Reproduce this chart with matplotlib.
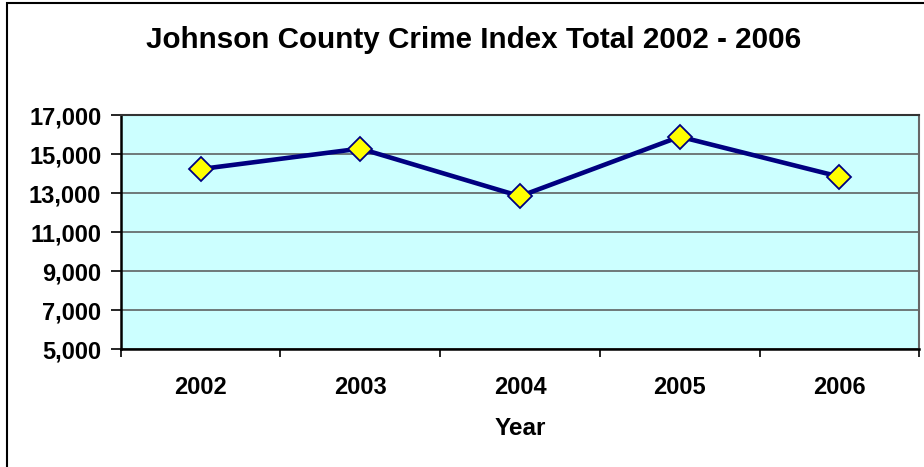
import numpy as np
import matplotlib.pyplot as plt
from matplotlib.patches import Rectangle
from matplotlib.ticker import FuncFormatter, FixedLocator

# 数据
years = ['2002', '2003', '2004', '2005', '2006']
crime_total = [14230, 15280, 12840, 15890, 13840]
y_ticks = [5000, 7000, 9000, 11000, 13000, 15000, 17000]

plt.rcParams['font.family'] = ['Liberation Sans', 'DejaVu Sans']
plt.rcParams['font.weight'] = 'bold'

fig = plt.figure(figsize=(9.24, 4.67), dpi=100)
fig.patch.set_facecolor('white')

# 外框
fig.patches.append(Rectangle((7 / 924, -0.1), 1.2, (1 - 3 / 467) + 0.1,
                             transform=fig.transFigure, fill=False,
                             edgecolor='black', linewidth=1.5))

ax = fig.add_axes([120.7 / 924, 1 - 349.3 / 467, (919.3 - 120.7) / 924, (349.3 - 115) / 467])
ax.set_facecolor('#CCFFFF')

x = np.arange(1, len(years) + 1)
ax.plot(x, crime_total, color='#000080', linewidth=3.3, marker='D', markersize=12,
        markerfacecolor='#FFFF00', markeredgecolor='#000080', markeredgewidth=1.3,
        zorder=3)

ax.set_xlim(0.5, len(years) + 0.5)
ax.set_ylim(5000, 17000)
ax.set_yticks(y_ticks)
ax.yaxis.set_major_formatter(FuncFormatter(lambda v, p: '{:,.0f}'.format(v)))
ax.yaxis.grid(True, color='#555555', linewidth=1.1)
ax.set_axisbelow(True)

# x轴：刻度在类别边界，标签在中间
ax.xaxis.set_major_locator(FixedLocator(np.arange(0.5, len(years) + 1, 1.0)))
ax.xaxis.set_minor_locator(FixedLocator(x))
ax.set_xticklabels([], minor=False)
ax.set_xticklabels(years, minor=True)
ax.tick_params(axis='x', which='major', length=6, width=1.2, color='black', direction='out')
ax.tick_params(axis='x', which='minor', length=0, pad=19, labelsize=17)
ax.tick_params(axis='y', length=7, width=1.2, direction='out', labelsize=17, pad=7)
for lab in ax.get_xticklabels(minor=True) + ax.get_yticklabels():
    lab.set_fontweight('bold')

ax.spines['left'].set_color('black')
ax.spines['left'].set_linewidth(1.8)
ax.spines['bottom'].set_color('black')
ax.spines['bottom'].set_linewidth(1.8)
ax.spines['top'].set_color('#333333')
ax.spines['top'].set_linewidth(1.5)
ax.spines['right'].set_color('#666666')
ax.spines['right'].set_linewidth(1.5)

fig.text(474 / 924, 1 - 47.7 / 467, 'Johnson County Crime Index Total 2002 - 2006',
         ha='center', va='baseline', fontsize=21.3, fontweight='bold')
fig.text(520 / 924, 1 - 435 / 467, 'Year', ha='center', va='baseline',
         fontsize=17.5, fontweight='bold')

fig.savefig('out.png', dpi=100)
